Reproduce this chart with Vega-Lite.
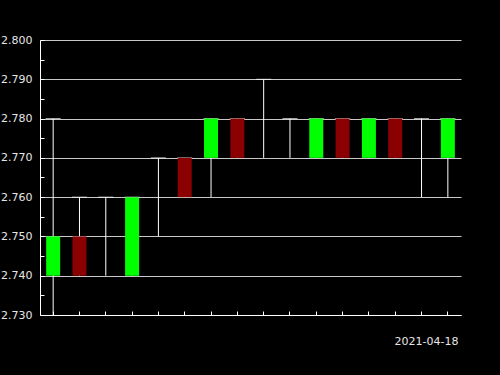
{
  "$schema": "https://vega.github.io/schema/vega-lite/v6.json",
  "width": 421,
  "height": 275,
  "autosize": {"type": "none"},
  "padding": {"left": 40, "top": 40, "right": 39, "bottom": 60},
  "background": "#000000",
  "config": {
    "view": {"stroke": null},
    "axis": {
      "labelFont": "DejaVu Sans",
      "titleFont": "DejaVu Sans",
      "domainColor": "#ffffff",
      "tickColor": "#ffffff",
      "labelColor": "#e6e6e6",
      "titleColor": "#e6e6e6"
    }
  },
  "data": {
    "values": [
      {"i": 0, "open": 2.74, "high": 2.78, "low": 2.73, "close": 2.75},
      {"i": 1, "open": 2.75, "high": 2.76, "low": 2.74, "close": 2.74},
      {"i": 2, "open": 2.75, "high": 2.76, "low": 2.74, "close": 2.75},
      {"i": 3, "open": 2.74, "high": 2.76, "low": 2.74, "close": 2.76},
      {"i": 4, "open": 2.76, "high": 2.77, "low": 2.75, "close": 2.76},
      {"i": 5, "open": 2.77, "high": 2.77, "low": 2.76, "close": 2.76},
      {"i": 6, "open": 2.77, "high": 2.78, "low": 2.76, "close": 2.78},
      {"i": 7, "open": 2.78, "high": 2.78, "low": 2.77, "close": 2.77},
      {"i": 8, "open": 2.78, "high": 2.79, "low": 2.77, "close": 2.78},
      {"i": 9, "open": 2.77, "high": 2.78, "low": 2.77, "close": 2.77},
      {"i": 10, "open": 2.77, "high": 2.78, "low": 2.77, "close": 2.78},
      {"i": 11, "open": 2.78, "high": 2.78, "low": 2.77, "close": 2.77},
      {"i": 12, "open": 2.77, "high": 2.78, "low": 2.77, "close": 2.78},
      {"i": 13, "open": 2.78, "high": 2.78, "low": 2.77, "close": 2.77},
      {"i": 14, "open": 2.77, "high": 2.78, "low": 2.76, "close": 2.77},
      {"i": 15, "open": 2.77, "high": 2.78, "low": 2.76, "close": 2.78}
    ]
  },
  "resolve": {"axis": {"y": "independent"}},
  "encoding": {
    "x": {
      "field": "i",
      "type": "ordinal",
      "scale": {"paddingInner": 0, "paddingOuter": 0},
      "axis": {
        "labels": false,
        "tickSize": -4,
        "grid": false,
        "title": "2021-04-18",
        "titleFontSize": 11,
        "titleFontWeight": "normal",
        "titleAlign": "right",
        "titleAnchor": null,
        "titleX": 418,
        "titleY": 29,
        "titleBaseline": "alphabetic"
      }
    }
  },
  "layer": [
    {
      "mark": {"type": "rule", "color": "#ffffff", "strokeWidth": 1},
      "encoding": {
        "y": {
          "field": "low",
          "type": "quantitative",
          "scale": {"domain": [2.73, 2.8], "zero": false, "nice": false},
          "axis": {
            "title": null,
            "values": [2.73, 2.735, 2.74, 2.745, 2.75, 2.755, 2.76, 2.765, 2.77, 2.775, 2.78, 2.785, 2.79, 2.795, 2.8],
            "format": ".3f",
            "labelExpr": "round(datum.value * 1000) % 10 == 0 ? datum.label : ''",
            "labelOverlap": false,
            "labelFontSize": 11,
            "labelPadding": 12,
            "tickSize": -4,
            "grid": true,
            "gridColor": "#c8c8c8",
            "gridOpacity": {
              "condition": {"test": "round(datum.value * 1000) % 10 == 0", "value": 1},
              "value": 0
            },
            "gridWidth": 1
          }
        },
        "y2": {"field": "high"}
      }
    },
    {
      "mark": {"type": "tick", "color": "#ffffff", "size": 15, "thickness": 1},
      "encoding": {"y": {"field": "high", "type": "quantitative", "axis": null}}
    },
    {
      "mark": {"type": "bar", "width": 14},
      "encoding": {
        "y": {"field": "open", "type": "quantitative", "axis": null},
        "y2": {"field": "close"},
        "color": {
          "condition": {"test": "datum.close > datum.open", "value": "#00ff00"},
          "value": "#8b0000"
        }
      }
    }
  ]
}
